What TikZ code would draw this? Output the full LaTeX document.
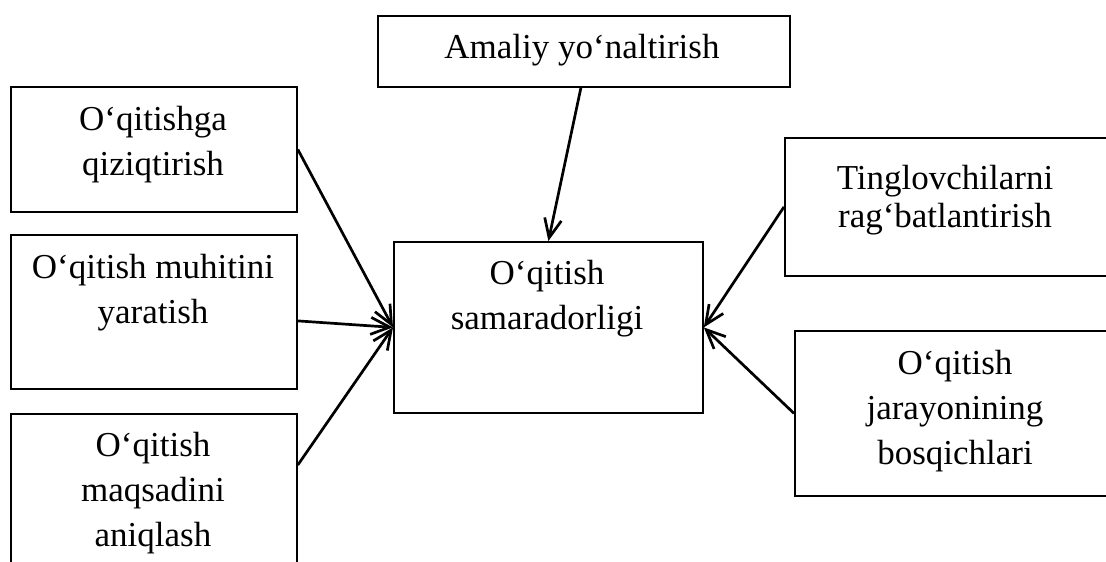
\documentclass[tikz,border=0pt]{standalone}
\usepackage{fontspec}
\setmainfont{Liberation Serif}
\usetikzlibrary{arrows.meta}

\begin{document}
\begin{tikzpicture}[x=1pt,y=-1pt,
  box/.style={draw,line width=1.8pt,inner sep=0pt,anchor=north west},
  label/.style={anchor=north,inner sep=0pt,align=center,
    font=\fontsize{35}{45}\selectfont},
  tight/.style={font=\fontsize{35}{38}\selectfont},
  link/.style={line width=2.7pt,
    -{Straight Barb[length=19pt,width=17pt,line width=2.7pt]}}]
\useasboundingbox (0,0) rectangle (1106,562);
\clip (0,0) rectangle (1106,562);

% frames
\node[box,minimum width=412pt,minimum height=71pt]  (amaliy) at (377,15)  {};
\node[box,minimum width=286pt,minimum height=125pt] (qiziq)  at (10,86)   {};
\node[box,minimum width=286pt,minimum height=154pt] (muhit)  at (10,234)  {};
\node[box,minimum width=286pt,minimum height=200pt] (maqsad) at (10,413)  {};
\node[box,minimum width=309pt,minimum height=171pt] (samar)  at (393,241) {};
\node[box,minimum width=340pt,minimum height=138pt] (ragbat) at (784,137) {};
\node[box,minimum width=330pt,minimum height=165pt] (bosq)   at (794,330) {};

% captions
\node[label] (tAmaliy) at (582,34)  {Amaliy yo‘naltirish};
\node[label] (tQiziq)  at (153,106) {O‘qitishga\\qiziqtirish};
\node[label] (tMuhit)  at (153,254) {O‘qitish muhitini\\yaratish};
\node[label] (tMaqsad) at (153,432) {O‘qitish\\maqsadini\\aniqlash};
\node[label] (tSamar)  at (547,260) {O‘qitish\\samaradorligi};
\node[label,tight] (tRagbat) at (945,165) {Tinglovchilarni\\rag‘batlantirish};
\node[label] (tBosq)   at (955,350) {O‘qitish\\jarayonining\\bosqichlari};

% connectors
\draw[link] ([xshift=-3pt]amaliy.south) -- (samar.north);
\draw[link] (qiziq.east) -- (samar.west);
\draw[link] ([yshift=-9pt]muhit.east) -- (samar.west);
\draw[link] ([yshift=-52pt]maqsad.north east) -- (samar.west);
\draw[link] (ragbat.west) -- (samar.east);
\draw[link] (bosq.west) -- (samar.east);
\end{tikzpicture}
\end{document}
